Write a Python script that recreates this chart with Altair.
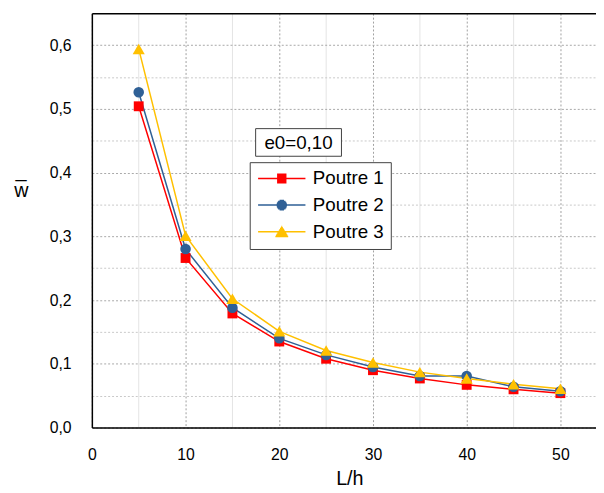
import altair as alt
import pandas as pd
import numpy as np

lh = [5, 10, 15, 20, 25, 30, 35, 40, 45, 50]
poutre1 = [0.504, 0.266, 0.179, 0.135, 0.108, 0.090, 0.077, 0.067, 0.060, 0.054]
poutre2 = [0.526, 0.280, 0.188, 0.140, 0.114, 0.095, 0.081, 0.081, 0.064, 0.057]
poutre3 = [0.594, 0.301, 0.202, 0.151, 0.121, 0.102, 0.087, 0.077, 0.068, 0.061]
series = ["Poutre 1", "Poutre 2", "Poutre 3"]
colors = ["#FF0000", "#2F6096", "#FFC000"]
shapes = ["square", "circle", "triangle-up"]
marker_sizes = [100, 115, 150]
x_ticks = [0, 5, 10, 15, 20, 25, 30, 35, 40, 45, 50]
y_ticks = [0.0, 0.05, 0.1, 0.15, 0.2, 0.25, 0.3, 0.35, 0.4, 0.45, 0.5, 0.55, 0.6, 0.65]
annotation = "e0=0,10"

df = pd.DataFrame({
    "lh": lh * 3,
    "w": poutre1 + poutre2 + poutre3,
    "serie": [s for s in series for _ in lh],
})

FONT = "Liberation Sans"


# legend glyphs: a horizontal line through a marker drawn with stroke-only hatching
def hatch(halfwidth, y0, y1, n=10):
    parts = []
    for y in np.linspace(y0, y1, n):
        hw = halfwidth(y)
        if hw > 0.02:
            parts.append(f"M{-hw:.3f},{y:.3f}H{hw:.3f}")
    return "".join(parts)


line_seg = "M-4.8,0H4.8"
legend_paths = [
    line_seg + hatch(lambda y: 0.95, -0.85, 0.85, 9),
    line_seg + hatch(lambda y: float(np.sqrt(max(1.05 ** 2 - y ** 2, 0))), -0.95, 0.95, 10),
    line_seg + hatch(lambda y: 1.3 * (y + 1.2) / 2.15, -1.05, 0.95, 10),
]

xscale = alt.Scale(domain=[0, 53.8], nice=False, zero=False)
yscale = alt.Scale(domain=[0, 0.65], nice=False)

x_axis = alt.Axis(
    values=x_ticks, title="L/h",
    labelExpr="datum.value % 10 == 0 ? datum.label : ''",
    labelFlush=False, ticks=False, labelPadding=19, labelFontSize=16, labelColor="black",
    titleFontSize=20, titleFontWeight="normal", titleColor="black", titleX=261, titleY=42,
    domainColor="black", domainWidth=1.5,
    gridColor={"condition": {"test": "datum.value % 10 == 0", "value": "#a0a0a0"}, "value": "#e4e4e4"},
    gridDash={"condition": {"test": "datum.value % 10 == 0", "value": [2, 2]}, "value": []},
)
y_axis = alt.Axis(
    values=y_ticks, title="w\u0305",
    labelExpr="round(datum.value*20) % 2 == 0 ? replace(format(datum.value, '.1f'), '.', ',') : ''",
    labelFlush=False, ticks=False, labelPadding=21, labelFontSize=16, labelColor="black",
    titleAngle=0, titleX=-72, titleY=180, titleAlign="center", titleBaseline="middle",
    titleFontSize=20, titleFontWeight="normal", titleColor="black",
    domainColor="black", domainWidth=1.5,
    gridColor={"condition": [
        {"test": "datum.value > 0.64", "value": "#000000"},
        {"test": "round(datum.value*20) % 2 == 0", "value": "#a8a8a8"}],
        "value": "#c8c8c8"},
    gridDash={"condition": {"test": "datum.value > 0.64", "value": []}, "value": [2, 2]},
    gridWidth={"condition": {"test": "datum.value > 0.64", "value": 1.5}, "value": 1},
)

x_enc = alt.X("lh:Q", scale=xscale, axis=x_axis)
y_enc = alt.Y("w:Q", scale=yscale, axis=y_axis)

line_layers = []
point_layers = []
for s, c, shp, sz in zip(series, colors, shapes, marker_sizes):
    sub = alt.Chart(df).transform_filter(alt.datum.serie == s)
    line_layers.append(sub.mark_line(strokeWidth=1.5, color=c).encode(x=x_enc, y=y_enc))
    point_layers.append(
        sub.mark_point(filled=True, opacity=1, shape=shp, size=sz, color=c).encode(x=x_enc, y=y_enc)
    )

leg = alt.Legend(
    orient="none", legendX=160, legendY=151, title=None,
    strokeColor="#404040", fillColor="white", padding=7, cornerRadius=0,
    symbolSize=100, symbolStrokeWidth=1.5, symbolOffset=16, labelOffset=22,
    labelFont=FONT, labelFontSize=19, labelColor="black", labelLimit=400, rowPadding=7,
)
legend_layer = alt.Chart(df).transform_filter("false").mark_point(
    filled=False, size=100, strokeWidth=1.5, opacity=1
).encode(
    x=x_enc, y=y_enc,
    color=alt.Color("serie:N", scale=alt.Scale(domain=series, range=colors), legend=leg),
    shape=alt.Shape("serie:N", scale=alt.Scale(domain=series, range=legend_paths), legend=leg),
)

one = alt.Data(values=[{"a": 1}])
box = alt.Chart(one).mark_rect(fill="white", stroke="#404040", strokeWidth=1).encode(
    x=alt.value(166), x2=alt.value(253), y=alt.value(117), y2=alt.value(145)
)
box_text = alt.Chart(one).mark_text(font=FONT, fontSize=19, color="black").encode(
    x=alt.value(209.5), y=alt.value(131.5), text=alt.value(annotation)
)

chart = alt.layer(*line_layers, *point_layers, legend_layer, box, box_text).properties(
    width=511, height=420,
    autosize=alt.AutoSizeParams(type="none"),
    padding={"left": 85, "top": 2, "right": 0, "bottom": 60},
    background="white",
).configure(font=FONT).configure_view(stroke=None)

chart.save("out.html", embed_options={"renderer": "svg", "actions": False})
